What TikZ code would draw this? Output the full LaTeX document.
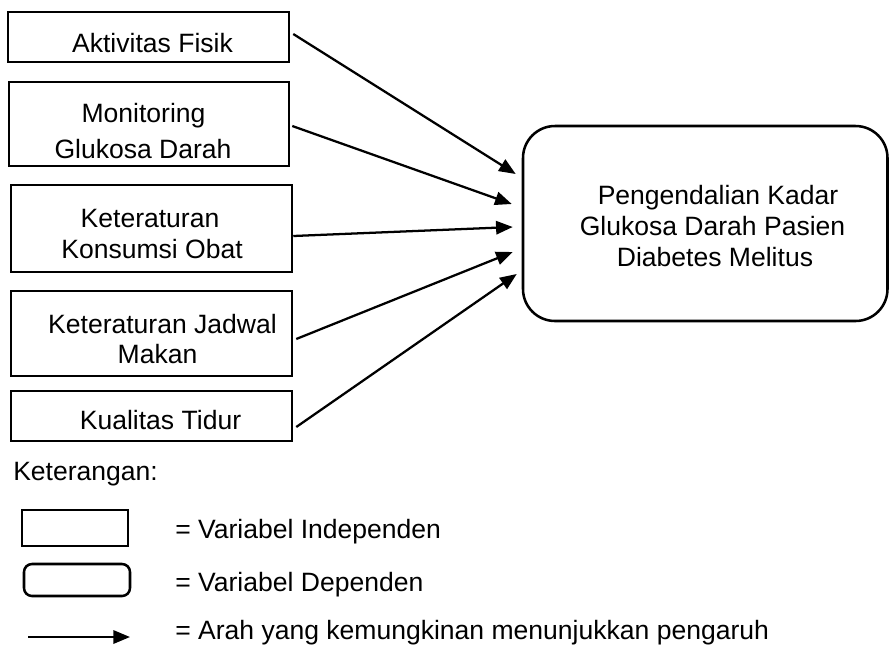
\documentclass[tikz,border=0pt]{standalone}
\usepackage{fontspec}
\setmainfont{Liberation Sans}
\usetikzlibrary{arrows.meta,fit,calc}
\tikzset{
  ibox/.style={draw=black, line width=1.9pt, inner sep=0pt},
  dbox/.style={draw=black, line width=1.9pt, inner sep=0pt, rounded corners=24pt},
  lbl/.style={inner sep=0pt, anchor=base, font=\fontsize{19.9pt}{23pt}\selectfont},
  lblw/.style={lbl, anchor=base west},
  arr/.style={line width=1.7pt, -{Triangle[length=12.5pt,width=10pt]}}
}
\begin{document}
\begin{tikzpicture}[x=0.75pt,y=-0.75pt]
\useasboundingbox (0,0) rectangle (889,644);
% independent boxes
\node[ibox, fit={(8,12) (289,62)}] (b1) {};
\node[ibox, fit={(9,82) (289,166)}] (b2) {};
\node[ibox, fit={(11,185) (292,272)}] (b3) {};
\node[ibox, fit={(11,291) (292,376)}] (b4) {};
\node[ibox, fit={(11,391) (292,441)}] (b5) {};
% dependent box
\node[dbox, fit={(523,126) (887.5,321)}] (dep) {};
% texts
\node[lbl] (t1a) at (152.5,52) {Aktivitas Fisik};
\node[lbl] (t2a) at (143.5,122) {Monitoring};
\node[lbl] (t2b) at (143,158) {Glukosa Darah};
\node[lbl] (t3a) at (150,227) {Keteraturan};
\node[lbl] (t3b) at (152,258) {Konsumsi Obat};
\node[lbl] (t4a) at (162.5,333) {Keteraturan Jadwal};
\node[lbl] (t4b) at (157.5,363) {Makan};
\node[lbl] (t5a) at (160.5,429) {Kualitas Tidur};
\node[lbl] (d1) at (718,204) {Pengendalian Kadar};
\node[lbl] (d2) at (712.5,235) {Glukosa Darah Pasien};
\node[lbl] (d3) at (715,266) {Diabetes Melitus};
% connector ends
\coordinate (s1) at ($(b1.east)+(3,-3)$);
\coordinate (s2) at ($(b2.east)+(2,2)$);
\coordinate (s3) at ($(b3.east)+(0,7.5)$);
\coordinate (s4) at ($(b4.east)+(3,5.5)$);
\coordinate (s5) at ($(b5.east)+(3,11)$);
\coordinate (e1) at ($(dep.west)+(-6,-49.5)$);
\coordinate (e2) at ($(dep.west)+(-10,-19.5)$);
\coordinate (e3) at ($(dep.west)+(-9,3.5)$);
\coordinate (e4) at ($(dep.west)+(-9,28.5)$);
\coordinate (e5) at ($(dep.west)+(-5,50.5)$);
\draw[arr] (s1) -- (e1);
\draw[arr] (s2) -- (e2);
\draw[arr] (s3) -- (e3);
\draw[arr] (s4) -- (e4);
\draw[arr] (s5) -- (e5);
% legend
\node[lblw] (ket) at (13,480) {Keterangan:};
\node[ibox, fit={(22,510) (128,546)}] (li) {};
\node[ibox, rounded corners=6pt, fit={(24,564) (130,596)}] (ld) {};
\coordinate (la0) at (28,637);
\coordinate (la1) at (130,637);
\draw[arr] (la0) -- (la1);
\node[lblw] (lt1) at (175,538) {= Variabel Independen};
\node[lblw] (lt2) at (175,591) {= Variabel Dependen};
\node[lblw] (lt3) at (175,639) {= Arah yang kemungkinan menunjukkan pengaruh};
\end{tikzpicture}
\end{document}
